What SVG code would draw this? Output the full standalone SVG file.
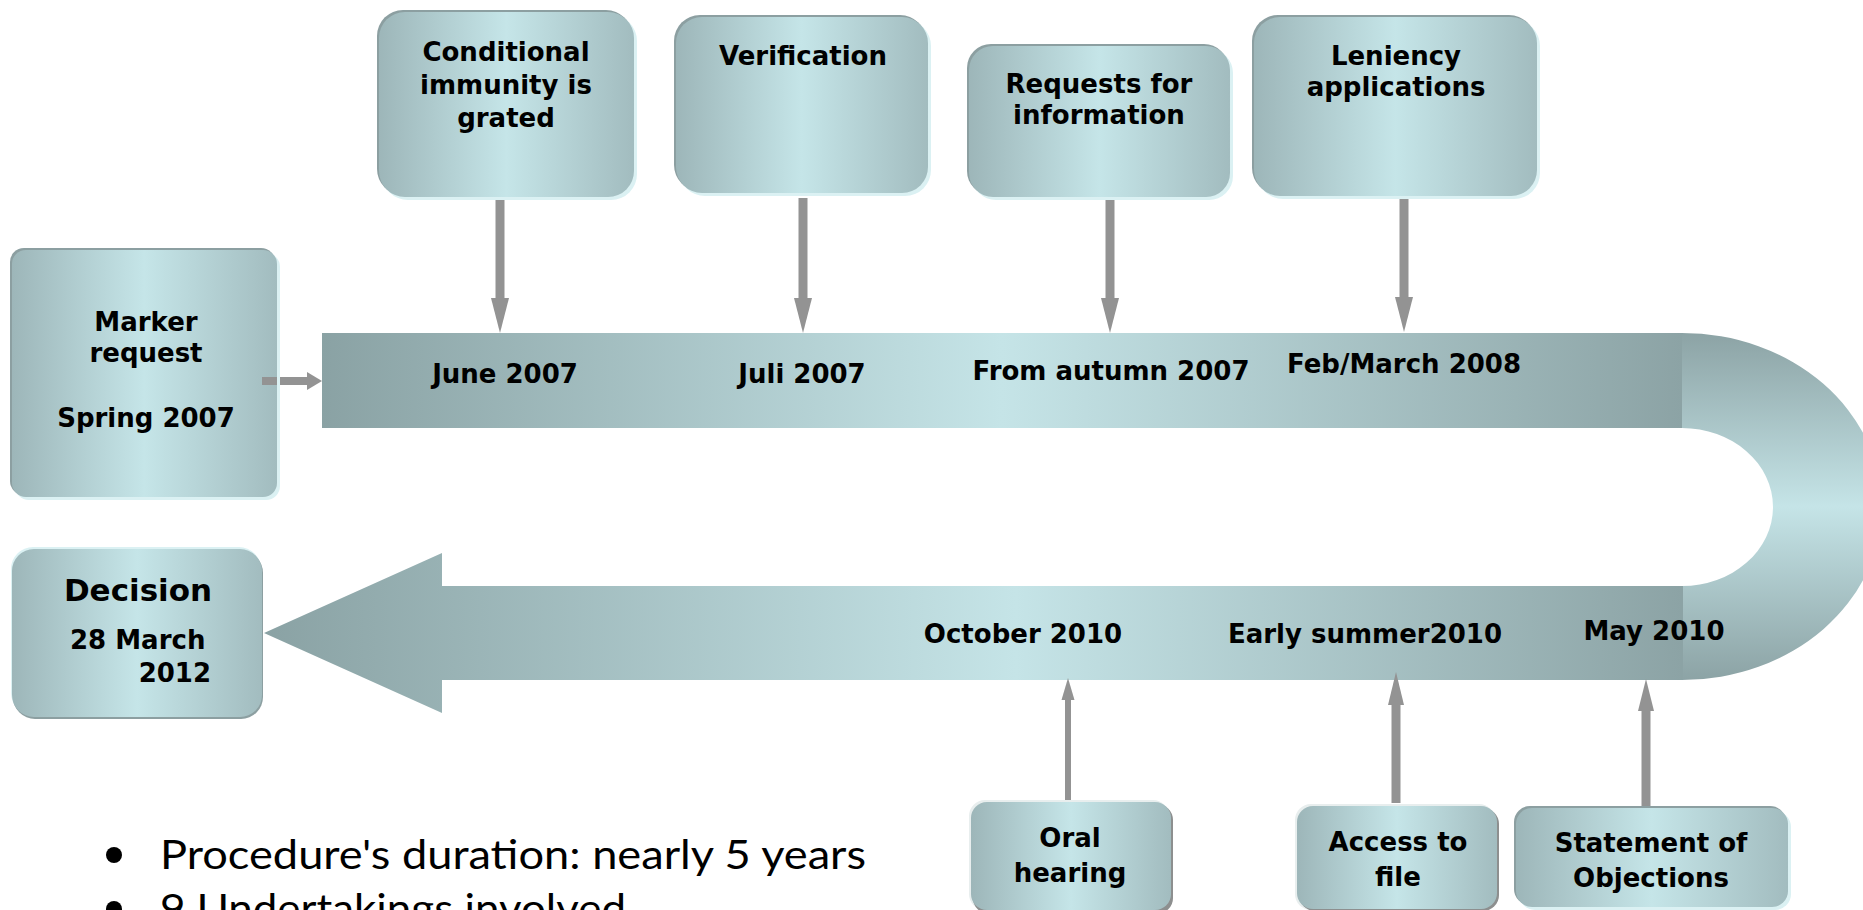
<svg xmlns="http://www.w3.org/2000/svg" width="1863" height="910" viewBox="0 0 1863 910">
<defs>
<linearGradient id="gBox" x1="0" y1="0" x2="1" y2="0">
<stop offset="0" stop-color="#9db6b9"/>
<stop offset="0.5" stop-color="#c5e5e8"/>
<stop offset="1" stop-color="#a2bcbf"/>
</linearGradient>
<linearGradient id="gTop" gradientUnits="userSpaceOnUse" x1="322" y1="0" x2="1682" y2="0">
<stop offset="0" stop-color="#8aa2a4"/>
<stop offset="0.5" stop-color="#c5e4e7"/>
<stop offset="1" stop-color="#8ca3a5"/>
</linearGradient>
<linearGradient id="gBot" gradientUnits="userSpaceOnUse" x1="264" y1="0" x2="1682" y2="0">
<stop offset="0" stop-color="#8aa2a4"/>
<stop offset="0.53" stop-color="#c5e4e7"/>
<stop offset="1" stop-color="#8ca3a5"/>
</linearGradient>
<linearGradient id="gArc" gradientUnits="userSpaceOnUse" x1="0" y1="333" x2="0" y2="680">
<stop offset="0" stop-color="#8ca3a5"/>
<stop offset="0.5" stop-color="#c5e4e7"/>
<stop offset="1" stop-color="#8ca3a5"/>
</linearGradient>
</defs>
<style>
.bx{fill:url(#gBox)}
.dk{fill:#8c9fa1}
.lt{fill:#dbf1f3}
.dg{fill:#8d8f8f}
.lg{fill:#e8eeee}
.t{font-family:"DejaVu Sans","Liberation Sans",sans-serif;font-weight:bold;font-size:26px;fill:#000;text-anchor:middle}
.big{font-size:31px}
.bul{font-family:Lato,"Open Sans","Liberation Sans",sans-serif;font-size:40px;fill:#000}
.arr{fill:#939393}
</style>

<g id="timeline">
<rect x="322" y="333" width="1361" height="95" fill="url(#gTop)"/>
<path d="M1682,333 A200,173.5 0 0 1 1682,680 L1682,586 A91,79 0 0 0 1682,428 Z" fill="url(#gArc)"/>
<path d="M1683,586 L442,586 L442,553 L264,633 L442,713 L442,680 L1683,680 Z" fill="url(#gBot)"/>
</g>

<g id="dates">
<text class="t" x="505" y="383">June 2007</text>
<text class="t" x="802" y="383">Juli 2007</text>
<text class="t" x="1111" y="380">From autumn 2007</text>
<text class="t" x="1404" y="373">Feb/March 2008</text>
<text class="t" x="1023" y="643">October 2010</text>
<text class="t" x="1365" y="643">Early summer2010</text>
<text class="t" x="1654" y="640">May 2010</text>
</g>

<g id="connectors">
<rect class="arr" x="495.5" y="198" width="9" height="102"/>
<path class="arr" d="M491,298 L509,298 L500,333 Z"/>
<rect class="arr" x="798.5" y="198" width="9" height="102"/>
<path class="arr" d="M794,298 L812,298 L803,333 Z"/>
<rect class="arr" x="1105.5" y="198" width="9" height="102"/>
<path class="arr" d="M1101,298 L1119,298 L1110,333 Z"/>
<rect class="arr" x="1399.5" y="196" width="9" height="103"/>
<path class="arr" d="M1395,297 L1413,297 L1404,332 Z"/>
<rect class="arr" x="262" y="377" width="47" height="8"/>
<path class="arr" d="M307,372 L322,381 L307,390 Z"/>
<rect class="arr" x="1065" y="698" width="6" height="105"/>
<path class="arr" d="M1061.5,700 L1074.5,700 L1068,678 Z"/>
<rect class="arr" x="1391.5" y="703" width="9" height="100"/>
<path class="arr" d="M1388,705 L1404,705 L1396,672 Z"/>
<rect class="arr" x="1641.5" y="709" width="9" height="101"/>
<path class="arr" d="M1638,711 L1654,711 L1646,679 Z"/>
</g>

<g id="n-conditional">
<rect class="dk" x="377" y="10" width="255" height="185" rx="26"/>
<rect class="lt" x="382" y="15" width="255" height="185" rx="26"/>
<rect class="bx" x="379" y="12" width="255" height="185" rx="26"/>
<text class="t" x="506" y="61">Conditional</text>
<text class="t" x="506" y="94">immunity is</text>
<text class="t" x="506" y="127">grated</text>
</g>

<g id="n-verification">
<rect class="dk" x="674" y="15" width="252" height="176" rx="26"/>
<rect class="lt" x="679" y="20" width="252" height="176" rx="26"/>
<rect class="bx" x="676" y="17" width="252" height="176" rx="26"/>
<text class="t" x="803" y="65">Verification</text>
</g>

<g id="n-requests">
<rect class="dk" x="967" y="44" width="261" height="151" rx="24"/>
<rect class="lt" x="972" y="49" width="261" height="151" rx="24"/>
<rect class="bx" x="969" y="46" width="261" height="151" rx="24"/>
<text class="t" x="1099" y="93">Requests for</text>
<text class="t" x="1099" y="124">information</text>
</g>

<g id="n-leniency">
<rect class="dk" x="1252" y="15" width="283" height="179" rx="26"/>
<rect class="lt" x="1257" y="20" width="283" height="179" rx="26"/>
<rect class="bx" x="1254" y="17" width="283" height="179" rx="26"/>
<text class="t" x="1396" y="65">Leniency</text>
<text class="t" x="1396" y="96">applications</text>
</g>

<g id="n-marker">
<rect class="dk" x="10" y="248" width="265" height="247" rx="14"/>
<rect class="lt" x="15" y="253" width="265" height="247" rx="14"/>
<rect class="bx" x="12" y="250" width="265" height="247" rx="14"/>
<text class="t" x="146" y="331">Marker</text>
<text class="t" x="146" y="362">request</text>
<text class="t" x="146" y="427">Spring 2007</text>
<rect class="arr" x="262" y="377" width="15" height="8"/>
</g>

<g id="n-decision">
<rect class="lt" x="11" y="547" width="250" height="168" rx="22"/>
<rect class="dk" x="13" y="551" width="250" height="168" rx="22"/>
<rect class="bx" x="12" y="549" width="250" height="168" rx="22"/>
<text class="t big" x="138" y="601">Decision</text>
<text class="t" x="70" y="649" style="text-anchor:start">28 March</text>
<text class="t" x="211" y="682" style="text-anchor:end">2012</text>
</g>

<g id="n-oral">
<rect class="lg" x="969" y="800" width="200" height="110" rx="16"/>
<rect class="dg" x="973" y="804" width="200" height="110" rx="16"/>
<rect class="bx" x="971" y="802" width="200" height="108" rx="16"/>
<text class="t" x="1070" y="847">Oral</text>
<text class="t" x="1070" y="882">hearing</text>
</g>

<g id="n-access">
<rect class="lg" x="1295" y="804" width="200" height="106" rx="16"/>
<rect class="dg" x="1299" y="808" width="200" height="103" rx="16"/>
<rect class="bx" x="1297" y="806" width="200" height="103" rx="16"/>
<text class="t" x="1398" y="851">Access to</text>
<text class="t" x="1398" y="886">file</text>
</g>

<g id="n-statement">
<rect class="dk" x="1514" y="806" width="272" height="99" rx="16"/>
<rect class="lt" x="1519" y="811" width="272" height="99" rx="16"/>
<rect class="bx" x="1516" y="808" width="272" height="99" rx="16"/>
<text class="t" x="1651" y="852">Statement of</text>
<text class="t" x="1651" y="887">Objections</text>
</g>

<g id="notes">
<circle cx="114" cy="855" r="8" fill="#000"/>
<text class="bul" x="160" y="869" textLength="706" lengthAdjust="spacingAndGlyphs">Procedure's duration: nearly 5 years</text>
<circle cx="114" cy="909" r="8" fill="#000"/>
<text class="bul" x="160" y="923" textLength="466" lengthAdjust="spacingAndGlyphs">9 Undertakings involved</text>
</g>
</svg>
